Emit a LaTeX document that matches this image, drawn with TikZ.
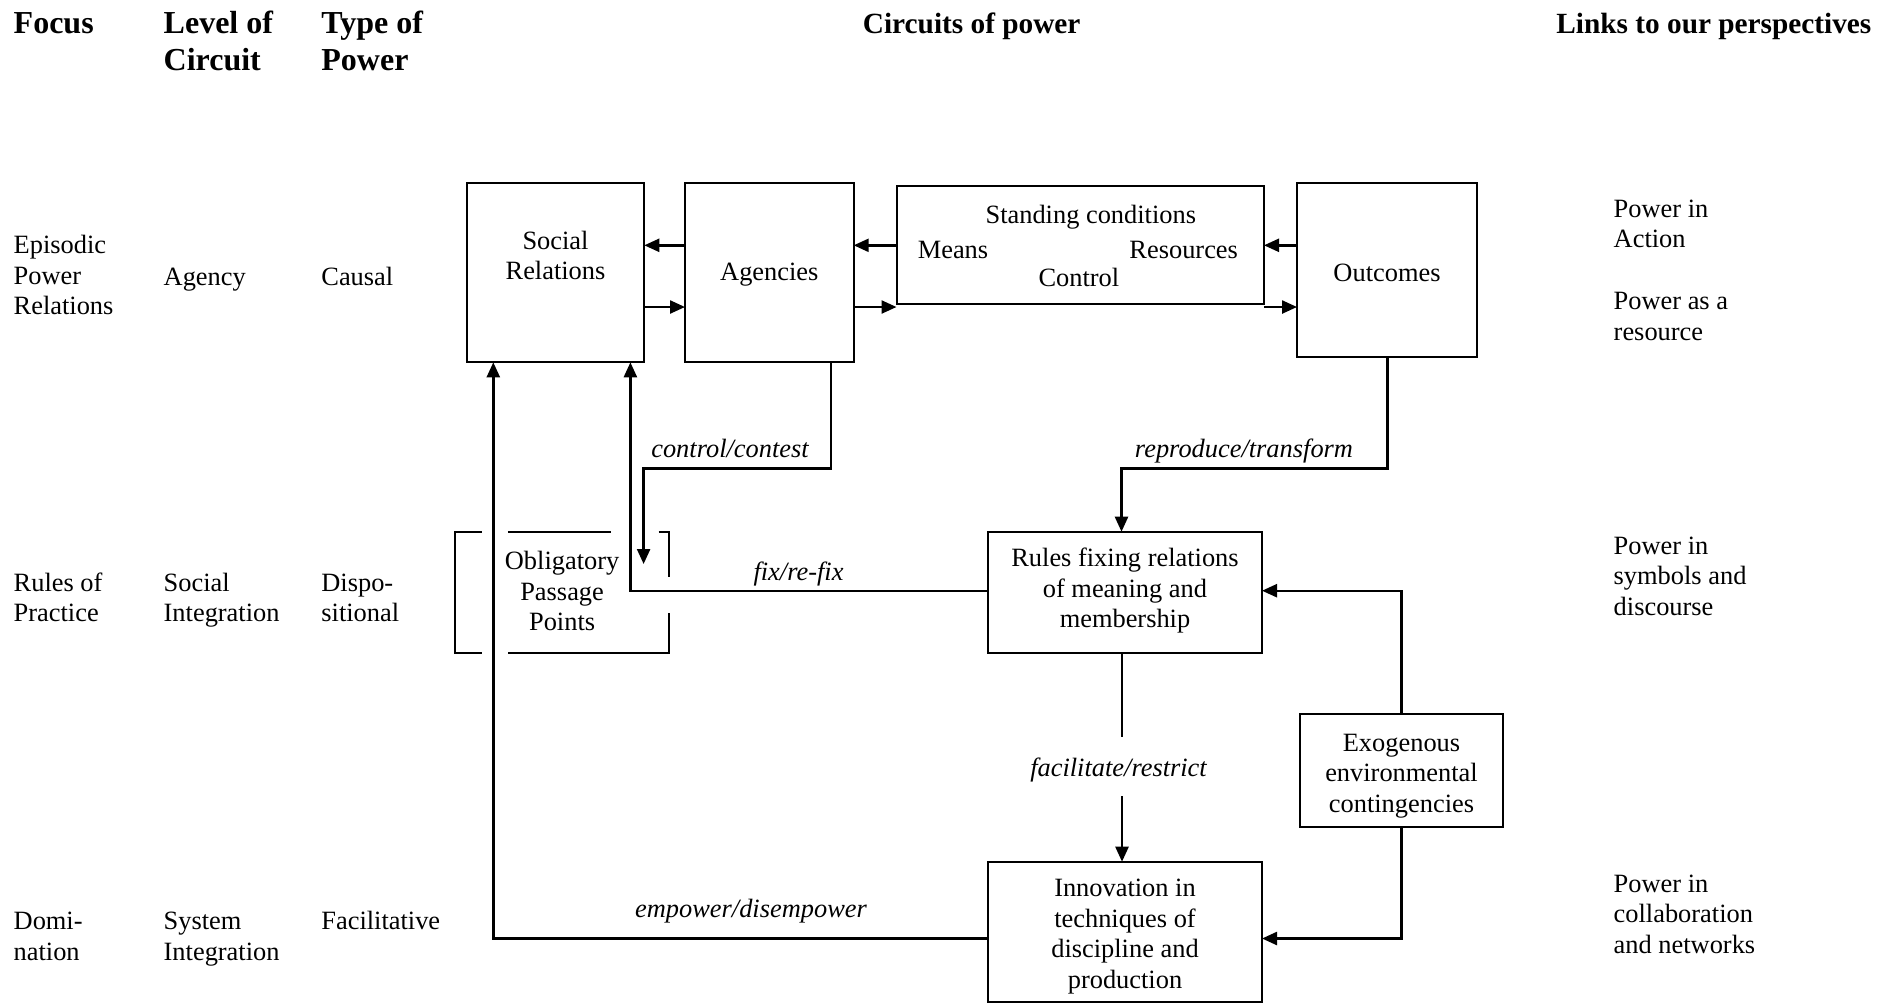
\documentclass[tikz,border=0pt]{standalone}
\usepackage{fontspec}
\setmainfont{Liberation Serif}
\usetikzlibrary{arrows.meta,fit}

\begin{document}
\begin{tikzpicture}[x=0.5pt,y=-0.5pt,
  box/.style={draw,line width=1pt,inner sep=0pt,outer sep=0pt},
  % multi-line texts are placed by the baseline of their last line
  boxtext/.style={font=\fontsize{13.2pt}{15.25pt}\selectfont,align=center,anchor=base,inner sep=0pt},
  side/.style={font=\fontsize{13.2pt}{15.25pt}\selectfont,align=left,anchor=base west,inner sep=0pt},
  colhead/.style={font=\fontsize{16pt}{18.35pt}\selectfont\bfseries,align=left,anchor=base west,inner sep=0pt},
  mainhead/.style={font=\fontsize{14.65pt}{17pt}\selectfont\bfseries,inner sep=0pt},
  flowlabel/.style={font=\fontsize{13.2pt}{15.25pt}\selectfont\itshape,anchor=base,inner sep=0pt},
  arr/.style={line width=1.2pt,-{Triangle[length=7.5pt,width=6.5pt]}},
  link/.style={line width=1pt},
  bracket/.style={line width=1pt},
]
\useasboundingbox[fill=white] (0,0) rectangle (1890,1003);

% column headings
\node[colhead] (hfocus) at (13.3,33.3) {Focus};
\node[colhead] (hlevel) at (163.3,70) {Level of\\Circuit};
\node[colhead] (htype)  at (321,70) {Type of\\Power};
\node[mainhead,anchor=base] (hcirc) at (971.7,33) {Circuits of power};
\node[mainhead,anchor=base west] (hlinks) at (1556,33) {Links to our perspectives};

% row descriptions, left side
\node[side] (f1) at (13.3,314.5) {Episodic\\Power\\Relations};
\node[side] (l1) at (163.3,285) {Agency};
\node[side] (t1) at (321,285) {Causal};
\node[side] (f2) at (13.3,621.5) {Rules of\\Practice};
\node[side] (l2) at (163.3,621.5) {Social\\Integration};
\node[side] (t2) at (321,621.5) {Dispo-\\sitional};
\node[side] (f3) at (13.3,960) {Domi-\\nation};
\node[side] (l3) at (163.3,960) {System\\Integration};
\node[side] (t3) at (321,929) {Facilitative};

% perspectives, right side
\node[side] (p1) at (1613.3,247.5) {Power in\\Action};
\node[side] (p2) at (1613.3,340) {Power as a\\resource};
\node[side] (p3) at (1613.3,615) {Power in\\symbols and\\discourse};
\node[side] (p4) at (1613.3,953) {Power in\\collaboration\\and networks};

% boxes of the circuits
\node[box,fit={(466.7,183.3)(644.3,362.3)}] (sr) {};
\node[box,fit={(685,183.3)(853.7,362.3)}] (ag) {};
\node[box,fit={(896.5,185.7)(1264,304.3)}] (sc) {};
\node[box,fit={(1297,182.7)(1477,356.7)}] (oc) {};
\node[box,fit={(987.5,531.7)(1262,653.3)}] (ru) {};
\node[box,fit={(987.5,861.7)(1262,1001.5)}] (inn) {};
\node[box,fit={(1300,714)(1503,827.3)}] (exo) {};

% box texts
\node[boxtext] (srt) at (555.5,279.8) {Social\\Relations};
\node[boxtext] (agt) at (769.3,280) {Agencies};
\node[boxtext] (sct) at (1090.8,223.5) {Standing conditions};
\node[boxtext] (scm) at (953,258.5) {Means};
\node[boxtext] (scr) at (1183.7,258.5) {Resources};
\node[boxtext] (scc) at (1078.9,286.5) {Control};
\node[boxtext] (oct) at (1387,281.8) {Outcomes};
\node[boxtext] (rut) at (1125,627.5) {Rules fixing relations\\of meaning and\\membership};
\node[boxtext] (innt) at (1125,988) {Innovation in\\techniques of\\discipline and\\production};
\node[boxtext] (exot) at (1401.5,812) {Exogenous\\environmental\\contingencies};

% obligatory passage points, an open frame
\node[boxtext] (opp) at (562.1,630.8) {Obligatory\\Passage\\Points};
\draw[bracket] (481.7,531.7) -- (455,531.7) -- (455,653.3) -- (481.7,653.3);
\draw[bracket] (507.9,531.7) -- (611.4,531.7);
\draw[bracket] (658.6,531.7) -- (669.3,531.7) -- (669.3,577.3);
\draw[bracket] (669.3,613.3) -- (669.3,653.3) -- (507.9,653.3);

% heights and columns of the connectors
\coordinate (yhi) at (0,245.3);
\coordinate (ylo) at (0,307);
\coordinate (yfix) at (0,590.7);
\coordinate (yemp) at (0,938.5);
\coordinate (xcc) at (831,0);
\coordinate (ccbend) at (643.6,468.3);
\coordinate (ccend) at (643.6,564);
\coordinate (xrt) at (1387.5,0);
\coordinate (rtbend) at (1121.5,468.3);
\coordinate (xfix) at (630.4,0);
\coordinate (xemp) at (493.3,0);
\coordinate (xfac) at (1122,0);
\coordinate (facstop) at (1122,737.3);
\coordinate (facstart) at (1122,796);

% episodic circuit
\draw[arr] (ag.west |- yhi) -- (sr.east |- yhi);
\draw[arr] (sr.east |- ylo) -- (ag.west |- ylo);
\draw[arr] (sc.west |- yhi) -- (ag.east |- yhi);
\draw[arr] (ag.east |- ylo) -- (sc.west |- ylo);
\draw[arr] (oc.west |- yhi) -- (sc.east |- yhi);
\draw[arr] (sc.east |- ylo) -- (oc.west |- ylo);

% links between the levels
\draw[arr] (ag.south -| xcc) |- (ccbend) -- (ccend);
\node[flowlabel] (lcc) at (730,457.3) {control/contest};
\draw[arr] (oc.south -| xrt) |- (rtbend) -- (ru.north -| rtbend);
\node[flowlabel] (lrt) at (1244,457.3) {reproduce/transform};
\draw[arr] (ru.west |- yfix) -| (sr.south -| xfix);
\node[flowlabel] (lfix) at (798.5,580) {fix/re-fix};
\draw[arr] (inn.west |- yemp) -| (sr.south -| xemp);
\node[flowlabel] (lemp) at (751,917.5) {empower/disempower};
\draw[link] (ru.south -| xfac) -- (facstop);
\draw[arr] (facstart) -- (inn.north -| facstart);
\node[flowlabel] (lfac) at (1118.5,776) {facilitate/restrict};
\draw[arr] (exo.north) |- (ru.east |- yfix);
\draw[arr] (exo.south) |- (inn.east |- yemp);
\end{tikzpicture}
\end{document}
